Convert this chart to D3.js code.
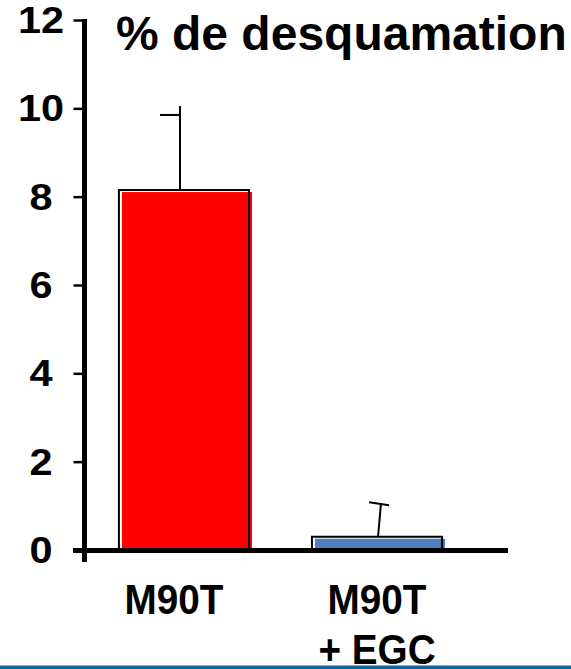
<!DOCTYPE html>
<html>
<head>
<meta charset="utf-8">
<script src="https://cdn.jsdelivr.net/npm/d3@7"></script>
<style>
  html, body { margin: 0; padding: 0; background: #fff; }
  svg { display: block; }
  text { font-family: "Liberation Sans", Arial, Helvetica, sans-serif; font-weight: bold; fill: #000; }
</style>
</head>
<body>
<svg id="chart" width="571" height="669"></svg>
<script>
// ---- data ----
const categories = ["M90T", "M90T\n+ EGC"];
const values = [8.15, 0.3];
const errors = [1.7, 0.76];
const barColors = ["#ff0000", "#4f7fbd"];
const yTicks = [0, 2, 4, 6, 8, 10, 12];
const title = "% de desquamation";

// ---- layout ----
const svg = d3.select("#chart");
const y = d3.scaleLinear().domain([0, 12]).range([550, 20]);
const x = d3.scaleBand().domain(categories).range([86, 508])
  .paddingInner(0.326).paddingOuter(0.256).align(0.333);

// bars: shifted fill + black outline
const bars = svg.append("g");
categories.forEach((c, i) => {
  const bx = x(c), bw = x.bandwidth(), by = y(values[i]), bh = y(0) - y(values[i]);
  bars.append("rect").attr("x", bx + 3).attr("y", by + 2).attr("width", bw).attr("height", bh)
    .attr("fill", barColors[i]);
  bars.append("rect").attr("x", bx).attr("y", by).attr("width", bw).attr("height", bh)
    .attr("fill", "none").attr("stroke", "#000").attr("stroke-width", 2);
});

// error bars
const eb = svg.append("g").attr("stroke", "#000").attr("stroke-width", 2).attr("fill", "none");
categories.forEach((c, i) => {
  const cx = x(c) + x.bandwidth() / 2;
  const y0 = y(values[i]);
  const yt = y(values[i] + errors[i]);
  if (i === 0) {
    const ex = cx - 4;
    eb.append("line").attr("x1", ex).attr("y1", y0).attr("x2", ex).attr("y2", yt - 9);
    eb.append("line").attr("x1", ex - 20).attr("y1", yt).attr("x2", ex).attr("y2", yt);
  } else {
    const ex = cx + 1;
    eb.append("line").attr("x1", ex).attr("y1", y0).attr("x2", ex + 3).attr("y2", yt);
    eb.append("line").attr("x1", ex - 9).attr("y1", yt - 1).attr("x2", ex + 11).attr("y2", yt + 2);
  }
});

// y axis
const yAxis = d3.axisLeft(y).tickValues(yTicks).tickSize(11).tickPadding(0);
const ga = svg.append("g").attr("transform", "translate(84.5,0)").call(yAxis);
ga.select(".domain").remove();
ga.selectAll(".tick line").attr("stroke", "#000").attr("stroke-width", 2.5);
ga.selectAll(".tick text").remove();
svg.append("line").attr("x1", 84.5).attr("x2", 84.5).attr("y1", y(12) - 1).attr("y2", 562)
  .attr("stroke", "#000").attr("stroke-width", 5);
// tick labels
svg.append("g").selectAll("text").data(yTicks).join("text")
  .attr("text-anchor", "middle")
  .attr("transform", d => `translate(41,${y(d) + 13}) scale(1.12,1)`)
  .attr("font-size", 37)
  .text(d => d);

// x baseline
svg.append("line").attr("x1", 73).attr("x2", 508).attr("y1", 550.5).attr("y2", 550.5)
  .attr("stroke", "#000").attr("stroke-width", 5);

// category labels
categories.forEach((c, i) => {
  const cx = x(c) + x.bandwidth() / 2 + (i === 0 ? -10 : 0);
  const lines = c.split("\n");
  lines.forEach((ln, j) => {
    svg.append("text")
      .attr("text-anchor", "middle")
      .attr("transform", `translate(${cx},${614 + j * 50}) scale(0.9,1)`)
      .attr("font-size", 43)
      .text(ln);
  });
});

// title
svg.append("text").attr("x", 116).attr("y", 50).attr("font-size", 48).text(title);

// bottom rule
svg.append("rect").attr("x", 0).attr("y", 665.5).attr("width", 571).attr("height", 4).attr("fill", "#1565a0");
</script>
</body>
</html>
